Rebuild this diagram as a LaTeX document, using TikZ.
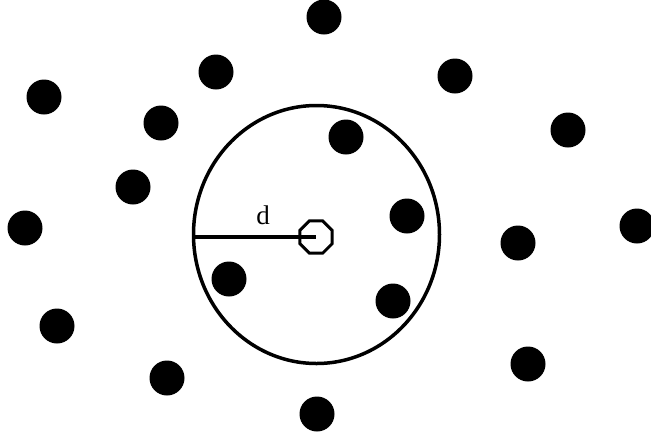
\documentclass[tikz,border=0pt]{standalone}
\usepackage{fontspec}
\setmainfont{Liberation Serif}
\usetikzlibrary{shapes.geometric}
\begin{document}
\begin{tikzpicture}[x=1pt,y=-1pt,
  dot/.style={circle,fill=black,inner sep=0pt,outer sep=0pt,minimum size=35pt},
  ringshape/.style={ellipse,draw=black,line width=3.5pt,inner sep=0pt,outer sep=0pt,minimum width=246pt,minimum height=258pt},
  octa/.style={regular polygon,regular polygon sides=8,draw=black,line width=3pt,inner sep=0pt,outer sep=0pt,minimum size=35pt},
  radius line/.style={line width=3.2pt}]
\useasboundingbox (0,0) rectangle (651,440);
\clip (0,0) rectangle (651,440);
\node[ringshape] (ring) at (316.5,234.5) {};
\node[octa] (oct) at (316,237) {};
\draw[radius line] (ring.west |- oct.center) -- (oct.center);
\node[font=\fontsize{27}{27}\selectfont] (d) at (263,215) {d};
\foreach \n/\x/\y in {1/324/17,2/216/72,3/455/76,4/44/97,5/161/123,6/568/130,7/346/137,8/133/187,9/407/216,10/25/228,11/518/243,12/637/226,13/229/279,14/393/301,15/57/326,16/528/364,17/167/378,18/317/414}
  \node[dot] (p\n) at (\x,\y) {};
\end{tikzpicture}
\end{document}
